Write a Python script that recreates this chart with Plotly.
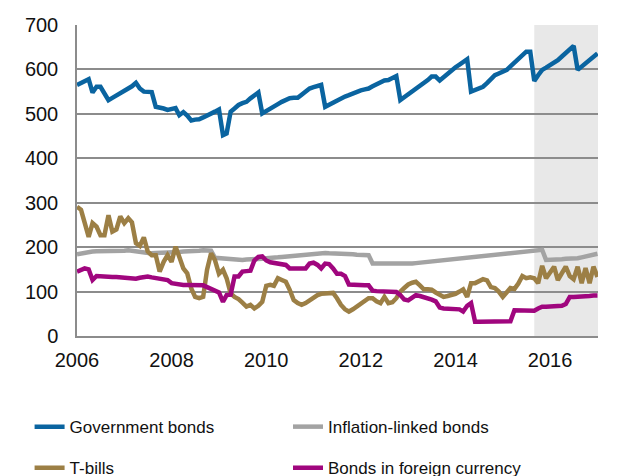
import pandas as pd
import plotly.graph_objects as go

# monthly, Jan 2006 - Jan 2017
months = pd.date_range("2006-01-01", periods=133, freq="MS")

government_bonds = [
    565, 570, 574, 578, 548, 561, 561, 545, 531, 536,
    541, 545, 550, 556, 562, 570, 557, 550, 550, 549,
    516, 515, 512, 509, 512, 513, 497, 504, 496, 485,
    487, 488, 492, 496, 499, 505, 510, 452, 456, 505,
    512, 520, 524, 527, 535, 542, 548, 501, 507, 512,
    518, 522, 527, 532, 535, 536, 536, 543, 550, 557,
    560, 563, 565, 516, 521, 525, 530, 535, 539, 542,
    546, 549, 553, 555, 557, 562, 567, 572, 575, 576,
    580, 585, 531, 537, 543, 550, 556, 563, 569, 576,
    584, 584, 575, 583, 591, 599, 605, 611, 617, 623,
    550, 554, 557, 561, 569, 578, 587, 591, 595, 599,
    607, 615, 623, 632, 640, 640, 574, 587, 599, 604,
    609, 614, 621, 629, 636, 645, 653, 599, 607, 615,
    623, 630, 636,
]

inflation_linked = [
    184, 186, 188, 190, 190, 191, 191, 191, 190, 191,
    192, 192, 192, 193, 192, 190, 188, 187, 186, 186,
    187, 187, 187, 188, 188, 189, 189, 190, 190, 191,
    191, 192, 193, 193, 192, 176, 175, 174, 173, 172,
    172, 171, 171, 172, 172, 172, 173, 174, 175, 175,
    176, 177, 178, 179, 180, 181, 182, 183, 184, 185,
    185, 186, 186, 187, 186, 186, 185, 185, 184, 184,
    184, 183, 183, 182, 182, 163, 163, 162, 162, 162,
    161, 161, 161, 162, 162, 163, 164, 165, 166, 167,
    168, 169, 170, 171, 172, 173, 174, 174, 175, 176,
    177, 178, 179, 180, 181, 182, 183, 184, 185, 186,
    187, 188, 189, 190, 191, 192, 193, 193, 194, 171,
    171, 172, 172, 173, 174, 174, 175, 175, 177, 179,
    181, 183, 185,
]

t_bills = [
    291, 284, 255, 223, 254, 246, 227, 227, 272, 235,
    240, 269, 254, 265, 256, 209, 203, 222, 190, 182,
    182, 145, 167, 182, 167, 201, 178, 152, 141, 107,
    88, 85, 88, 149, 186, 171, 140, 149, 130, 96,
    88, 83, 75, 66, 70, 62, 68, 77, 113, 115,
    113, 130, 126, 122, 104, 81, 74, 70, 74, 80,
    88, 92, 95, 96, 98, 97, 85, 70, 60, 55,
    60, 66, 74, 80, 85, 85, 78, 74, 88, 74,
    76, 85, 100, 108, 116, 120, 122, 114, 105, 105,
    104, 98, 92, 88, 90, 92, 95, 100, 105, 88,
    119, 119, 124, 128, 125, 110, 108, 100, 88, 100,
    108, 106, 118, 135, 130, 132, 130, 119, 158, 130,
    145, 156, 126, 140, 156, 135, 128, 156, 119, 153,
    119, 156, 133,
]

foreign_currency = [
    145, 150, 152, 150, 126, 135, 134, 133, 132, 133,
    133, 132, 131, 129, 128, 129, 131, 133, 134, 132,
    131, 130, 129, 126, 119, 117, 115, 115, 115, 115,
    115, 115, 114, 110, 106, 104, 98, 77, 92, 93,
    134, 134, 145, 146, 147, 170, 178, 179, 170, 166,
    164, 163, 162, 160, 152, 152, 152, 151, 152, 163,
    165, 160, 152, 163, 162, 152, 140, 140, 135, 116,
    115, 115, 115, 114, 114, 102, 101, 101, 100, 100,
    100, 99, 92, 82, 80, 88, 92, 90, 88, 86,
    82, 78, 64, 62, 61, 61, 61, 60, 55, 68,
    74, 32, 32, 32, 32, 32, 32, 32, 32, 32,
    33, 58, 58, 57, 57, 56, 57, 62, 66, 66,
    67, 67, 68, 68, 72, 88, 88, 88, 88, 88,
    90, 91, 91,
]

forecast_start = "2015-09-01"
x_end = "2017-01-05"

series = [
    ("Government bonds", government_bonds, "#0a64a0", "legend"),
    ("Inflation-linked bonds", inflation_linked, "#a3a3a3", "legend2"),
    ("T-bills", t_bills, "#9c7f45", "legend"),
    ("Bonds in foreign currency", foreign_currency, "#a0067e", "legend2"),
]

fig = go.Figure()
for name, values, color, leg in series:
    fig.add_trace(go.Scatter(x=months, y=values, mode="lines", name=name,
                             line=dict(color=color, width=4.5),
                             legend=leg, legendgroup=name))

# shaded forecast period
fig.add_vrect(x0=forecast_start, x1=x_end, fillcolor="#e8e8e8",
              line_width=0, layer="below")

font = dict(family="Liberation Sans, Arial, sans-serif", size=20, color="#111111")
leg_style = dict(orientation="v", xanchor="left", yanchor="top", y=-0.235,
                 font=dict(family="Liberation Sans, Arial, sans-serif", size=17, color="#111111"),
                 tracegroupgap=16, bgcolor="rgba(0,0,0,0)")

# page body adds an 8px offset, so the figure is 8px smaller
fig.update_layout(
    width=628, height=468,
    margin=dict(l=69, r=38, t=17, b=140, autoexpand=False),
    plot_bgcolor="white", paper_bgcolor="white",
    font=font,
    showlegend=True,
    legend=dict(leg_style, x=-0.091),
    legend2=dict(leg_style, x=0.405),
)
fig.update_xaxes(range=["2006-01-01", x_end], tick0="2006-01-01", dtick="M24",
                 tickformat="%Y", showgrid=False, showline=True, linecolor="#8c8c8c",
                 linewidth=1.5, ticks="", ticklabelstandoff=5)
fig.update_yaxes(range=[0, 700], dtick=100, showgrid=True, gridcolor="#8c8c8c",
                 gridwidth=1.5, zeroline=False, showline=True, linecolor="#8c8c8c",
                 linewidth=1.5, ticks="", ticklabelstandoff=13)

fig.write_html("out.html")
